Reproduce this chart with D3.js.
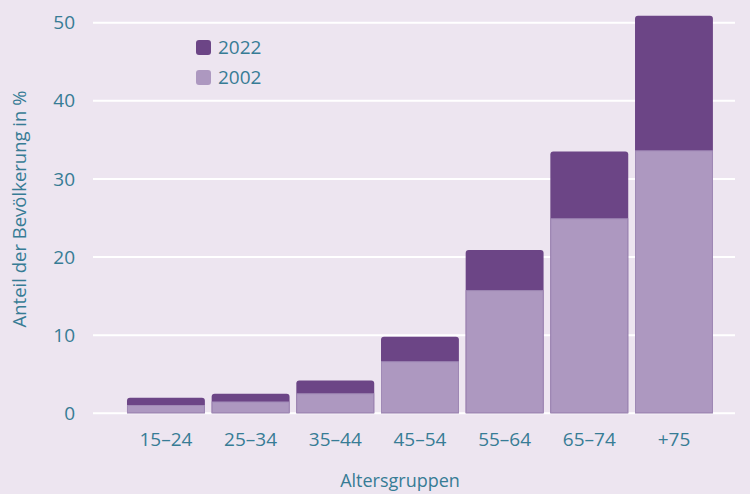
<!doctype html>
<html>
  <head>
    <script src="https://cdn.jsdelivr.net/npm/d3@7"></script>
    <style>
      body { margin: 0; background: #ede5f0; }
      text { font-family: "Open Sans", sans-serif; fill: #377c95; }
    </style>
  </head>
  <body>
    <div id="my_dataviz"></div>
    <script>
      // age groups and shares (percent)
      var groups = ["15–24", "25–34", "35–44", "45–54", "55–64", "65–74", "+75"];
      var values2022 = [2.0, 2.5, 4.2, 9.8, 20.9, 33.5, 50.9];
      var values2002 = [1.0, 1.45, 2.5, 6.6, 15.7, 24.9, 33.6];
      var yTicks = [0, 10, 20, 30, 40, 50];
      var seriesNames = ["2022", "2002"];

      var colors = {"2022": "#6c4586", "2002": "#ad98c0"};

      var svg = d3.select("#my_dataviz")
        .append("svg")
          .attr("width", 750)
          .attr("height", 494);

      svg.append("rect")
        .attr("width", 750).attr("height", 494)
        .attr("fill", "#ede5f0");

      var x = d3.scaleBand()
        .domain(groups)
        .range([123.6, 716.3])
        .paddingInner(0.08)
        .paddingOuter(0.04);

      var y = d3.scaleLinear()
        .domain([0, 50])
        .range([413.3, 22.7]);

      // gridlines
      svg.selectAll("myGrid")
        .data(yTicks)
        .enter()
        .append("line")
          .attr("x1", 93).attr("x2", 735)
          .attr("y1", function(d) { return y(d); })
          .attr("y2", function(d) { return y(d); })
          .attr("stroke", "#ffffff")
          .attr("stroke-width", 2);

      // y axis labels
      var yAxis = svg.append("g")
        .attr("transform", "translate(80,0)")
        .call(d3.axisLeft(y).tickValues(yTicks).tickSize(0).tickPadding(5));
      yAxis.select(".domain").remove();
      yAxis.selectAll("text")
        .style("font-size", "19px")
        .style("font-family", "'Open Sans', sans-serif")
        .attr("fill", "#377c95");

      // x axis labels
      var xAxis = svg.append("g")
        .attr("transform", "translate(0,426)")
        .call(d3.axisBottom(x).tickSize(0).tickPadding(6));
      xAxis.select(".domain").remove();
      xAxis.selectAll("text")
        .style("font-size", "19px")
        .style("font-family", "'Open Sans', sans-serif")
        .attr("fill", "#377c95");

      // rounded-top bar path
      function topRounded(x0, y0, w, h, r) {
        r = Math.min(r, h);
        return "M" + x0 + "," + (y0 + h) +
          "V" + (y0 + r) +
          "Q" + x0 + "," + y0 + " " + (x0 + r) + "," + y0 +
          "H" + (x0 + w - r) +
          "Q" + (x0 + w) + "," + y0 + " " + (x0 + w) + "," + (y0 + r) +
          "V" + (y0 + h) + "Z";
      }

      // 2022 bars (behind)
      svg.selectAll("bars2022")
        .data(groups)
        .enter()
        .append("path")
          .attr("d", function(d, i) {
            return topRounded(x(d), y(values2022[i]), x.bandwidth(), y(0) - y(values2022[i]), 3);
          })
          .attr("fill", colors["2022"]);

      // 2002 bars (front)
      svg.selectAll("bars2002")
        .data(groups)
        .enter()
        .append("rect")
          .attr("x", function(d) { return x(d) + 0.5; })
          .attr("y", function(d, i) { return y(values2002[i]); })
          .attr("width", x.bandwidth() - 1)
          .attr("height", function(d, i) { return y(0) - y(values2002[i]) - 0.5; })
          .attr("fill", colors["2002"])
          .attr("stroke", "#a08ab6")
          .attr("stroke-width", 1);

      // legend
      var legend = svg.selectAll("myLegend")
        .data(seriesNames)
        .enter()
        .append("g")
          .attr("transform", function(d, i) { return "translate(196," + (40 + i * 30) + ")"; });
      legend.append("rect")
        .attr("width", 15).attr("height", 15)
        .attr("rx", 3)
        .attr("fill", function(d) { return colors[d]; });
      legend.append("text")
        .attr("x", 22).attr("y", 14)
        .text(function(d) { return d; })
        .style("font-size", "19px");

      // axis titles
      svg.append("text")
        .attr("transform", "translate(26,209) rotate(-90)")
        .attr("text-anchor", "middle")
        .style("font-size", "18.5px")
        .text("Anteil der Bevölkerung in %");

      svg.append("text")
        .attr("x", 400).attr("y", 487)
        .attr("text-anchor", "middle")
        .style("font-size", "18px")
        .text("Altersgruppen");
    </script>
  </body>
</html>
